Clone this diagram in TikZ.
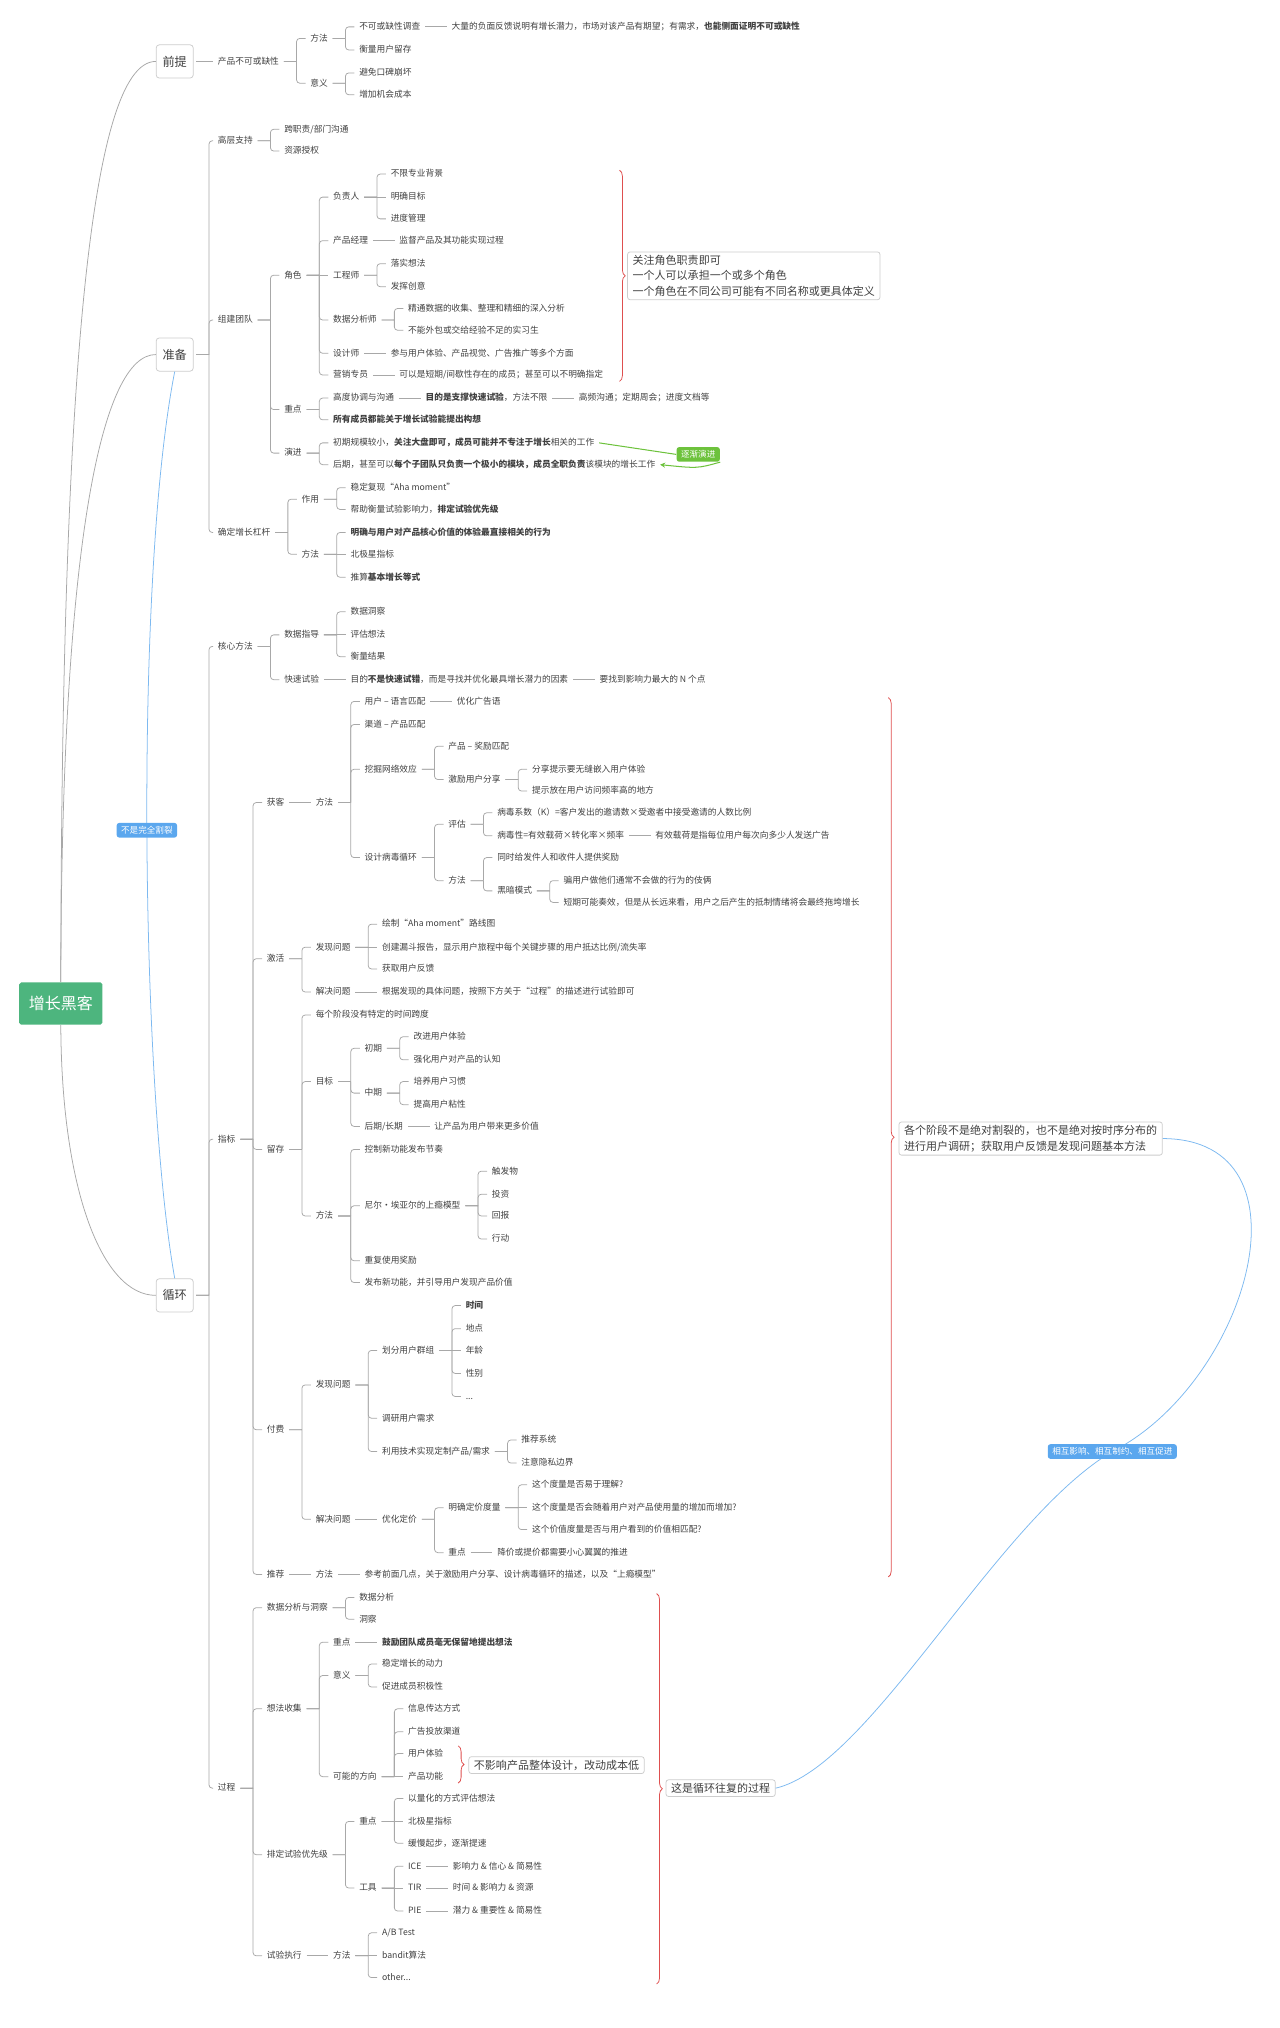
\documentclass[tikz,border=0pt]{standalone}
\usepackage{fontspec}
\setmainfont{Noto Sans CJK SC}
\usetikzlibrary{arrows.meta, positioning, decorations.pathreplacing}
\definecolor{ink}{HTML}{404040}
\definecolor{wire}{HTML}{A8A8A8}
\definecolor{frame}{HTML}{CDCDCD}
\definecolor{hubgreen}{HTML}{4DB57E}
\definecolor{bracered}{HTML}{DE4F4F}
\definecolor{tagblue}{HTML}{5BA7EE}
\definecolor{lineblue}{HTML}{7DB9F0}
\definecolor{leafgreen}{HTML}{6DC23C}

\begin{document}
\begin{tikzpicture}[%
    x = 1pt, y = -1pt,
    line width = 0.6pt,
    leaf/.style = {anchor = west, inner sep = 1.5pt, text = ink,
      text height = 5.6pt, text depth = 1.2pt,
      font = \fontsize{6.8}{8}\selectfont},
    kid/.style = {leaf, xshift = 21pt},
    br/.style = {draw = wire, to path = {%
        ([xshift = 2pt]\tikztostart.east) -- ([xshift = 12pt]\tikztostart.east)
        ++(0,0) [rounded corners = 2.5pt] |- ([xshift = -2pt]\tikztotarget.west)}},
    ln/.style = {draw = wire, shorten < = 2pt, shorten > = 2pt},
    topic/.style = {draw = frame, fill = white, rounded corners = 2.5pt,
      minimum width = 29pt, minimum height = 26pt, inner sep = 1pt,
      text = ink, font = \fontsize{9.5}{11}\selectfont},
    hubbox/.style = {fill = hubgreen, text = white, rounded corners = 1.5pt,
      minimum width = 65pt, minimum height = 33pt,
      font = \fontsize{12.5}{14}\selectfont},
    note/.style = {anchor = west, draw = frame, fill = white,
      rounded corners = 2pt, text = ink, align = left,
      inner xsep = 4pt, inner ysep = 2.5pt,
      font = \fontsize{8.6}{12.2}\selectfont},
    tag/.style = {fill = #1, text = white, rounded corners = 2pt,
      inner xsep = 3.5pt, inner ysep = 2.6pt,
      font = \fontsize{6.7}{7.5}\selectfont},
    brc/.style = {draw = bracered, decorate,
      decoration = {brace, amplitude = 4.5pt}},
    grn/.style = {draw = leafgreen, line width = 0.8pt},
  ]
  \useasboundingbox (0,0) rectangle (1000,1584.4);

  % 中心主题
  \node[hubbox] (hub) at (47.5,784) {增长黑客};
  \node[topic] (pre) at (136.5,48) {前提};
  \node[topic] (prep) at (136.5,277) {准备};
  \node[topic] (loop) at (136.5,1012) {循环};

  \draw[wire] (hub.north) .. controls (48,300) and (70,48) .. (pre.west);
  \draw[wire] (hub.north) .. controls (48,420) and (80,277) .. (prep.west);
  \draw[wire] (hub.south) .. controls (48,930) and (80,1012) .. (loop.west);
  \draw[lineblue] (prep.south) .. controls (105,450) and (110,850) .. (loop.north)
    node[pos = 0.5, tag = tagblue] (split) {不是完全割裂};

  % 前提
  \node[leaf] (must) at (168.5,48) {产品不可或缺性};
  \node[kid] (must1) at (must.east |- 0,30) {方法};
  \node[kid] (must2) at (must.east |- 0,65) {意义};
  \node[kid] (srv) at (must1.east |- 0,21) {不可或缺性调查};
  \node[leaf, right = 21pt of srv] (srv1) {大量的负面反馈说明有增长潜力，市场对该产品有期望；有需求，\textbf{也能侧面证明不可或缺性}};
  \node[kid] (keep) at (must1.east |- 0,39) {衡量用户留存};
  \node[kid] (mean1) at (must2.east |- 0,57) {避免口碑崩坏};
  \node[kid] (mean2) at (must2.east |- 0,74) {增加机会成本};

  \path (pre) edge[ln] (must)
    (must) edge[br] (must1) edge[br] (must2)
    (must1) edge[br] (srv) edge[br] (keep)
    (srv) edge[ln] (srv1)
    (must2) edge[br] (mean1) edge[br] (mean2);

  % 准备
  \node[leaf] (top) at (168.5,110) {高层支持};
  \node[kid] (top1) at (top.east |- 0,101) {跨职责/部门沟通};
  \node[kid] (top2) at (top.east |- 0,118) {资源授权};
  \node[leaf] (team) at (168.5,250) {组建团队};
  \node[kid] (role) at (team.east |- 0,215) {角色};
  \node[kid] (boss) at (role.east |- 0,154) {负责人};
  \node[kid] (boss1) at (boss.east |- 0,136) {不限专业背景};
  \node[kid] (boss2) at (boss.east |- 0,154) {明确目标};
  \node[kid] (boss3) at (boss.east |- 0,171) {进度管理};
  \node[kid] (pm) at (role.east |- 0,188) {产品经理};
  \node[leaf, right = 21pt of pm] (pm1) {监督产品及其功能实现过程};
  \node[kid] (eng) at (role.east |- 0,215) {工程师};
  \node[kid] (eng1) at (eng.east |- 0,206) {落实想法};
  \node[kid] (eng2) at (eng.east |- 0,224) {发挥创意};
  \node[kid] (ana) at (role.east |- 0,250) {数据分析师};
  \node[kid] (ana1) at (ana.east |- 0,241) {精通数据的收集、整理和精细的深入分析};
  \node[kid] (ana2) at (ana.east |- 0,258) {不能外包或交给经验不足的实习生};
  \node[kid] (des) at (role.east |- 0,276) {设计师};
  \node[leaf, right = 21pt of des] (des1) {参与用户体验、产品视觉、广告推广等多个方面};
  \node[kid] (mkt) at (role.east |- 0,293) {营销专员};
  \node[leaf, right = 21pt of mkt] (mkt1) {可以是短期/间歇性存在的成员；甚至可以不明确指定};
  \node[kid] (key) at (team.east |- 0,320) {重点};
  \node[kid] (co) at (key.east |- 0,311) {高度协调与沟通};
  \node[leaf, right = 21pt of co] (co1) {\textbf{目的是支撑快速试验}，方法不限};
  \node[leaf, right = 21pt of co1] (co2) {高频沟通；定期周会；进度文档等};
  \node[kid] (all) at (key.east |- 0,328) {\textbf{所有成员都能关于增长试验能提出构想}};
  \node[kid] (evo) at (team.east |- 0,354) {演进};
  \node[kid] (early) at (evo.east |- 0,346) {初期规模较小，\textbf{关注大盘即可，成员可能并不专注于增长}相关的工作};
  \node[kid] (late) at (evo.east |- 0,363) {后期，甚至可以\textbf{每个子团队只负责一个极小的模块，成员全职负责}该模块的增长工作};
  \node[tag = leafgreen] (grad) at (545.5,355) {逐渐演进};
  \node[leaf] (lev) at (168.5,416) {确定增长杠杆};
  \node[kid] (use) at (lev.east |- 0,390) {作用};
  \node[kid] (use1) at (use.east |- 0,381) {稳定复现“Aha moment”};
  \node[kid] (use2) at (use.east |- 0,398) {帮助衡量试验影响力，\textbf{排定试验优先级}};
  \node[kid] (how) at (lev.east |- 0,433) {方法};
  \node[kid] (how1) at (how.east |- 0,416) {\textbf{明确与用户对产品核心价值的体验最直接相关的行为}};
  \node[kid] (how2) at (how.east |- 0,433) {北极星指标};
  \node[kid] (how3) at (how.east |- 0,451) {推算\textbf{基本增长等式}};

  \path (prep) edge[br] (top) edge[br] (team) edge[br] (lev)
    (top) edge[br] (top1) edge[br] (top2)
    (team) edge[br] (role) edge[br] (key) edge[br] (evo)
    (role) edge[br] (boss) edge[br] (pm) edge[ln] (eng)
      edge[br] (ana) edge[br] (des) edge[br] (mkt)
    (boss) edge[br] (boss1) edge[ln] (boss2) edge[br] (boss3)
    (pm) edge[ln] (pm1)
    (eng) edge[br] (eng1) edge[br] (eng2)
    (ana) edge[br] (ana1) edge[br] (ana2)
    (des) edge[ln] (des1)
    (mkt) edge[ln] (mkt1)
    (key) edge[br] (co) edge[br] (all)
    (co) edge[ln] (co1)
    (co1) edge[ln] (co2)
    (evo) edge[br] (early) edge[br] (late)
    (lev) edge[br] (use) edge[br] (how)
    (use) edge[br] (use1) edge[br] (use2)
    (how) edge[br] (how1) edge[ln] (how2) edge[br] (how3);

  \draw[grn] ([xshift = 2pt]early.east) -- (grad.west);
  \draw[grn, -{Stealth[length = 4pt, width = 4pt]}] (grad.south east)
    .. controls (545,366) .. ([xshift = 2pt]late.east);

  \node[note] (roles) at (490,215.5) {关注角色职责即可\\一个人可以承担一个或多个角色\\一个角色在不同公司可能有不同名称或更具体定义};
  \draw[brc] (484,133) -- (484,298);

  % 循环
  \node[leaf] (core) at (168.5,505) {核心方法};
  \node[kid] (dat) at (core.east |- 0,496) {数据指导};
  \node[kid] (dat1) at (dat.east |- 0,478) {数据洞察};
  \node[kid] (dat2) at (dat.east |- 0,496) {评估想法};
  \node[kid] (dat3) at (dat.east |- 0,513) {衡量结果};
  \node[kid] (fast) at (core.east |- 0,531) {快速试验};
  \node[leaf, right = 21pt of fast] (fast1) {目的\textbf{不是快速试错}，而是寻找并优化最具增长潜力的因素};
  \node[leaf, right = 21pt of fast1] (fast2) {要找到影响力最大的 N 个点};

  \node[leaf] (kpi) at (168.5,890) {指标};
  \node[kid] (acq) at (kpi.east |- 0,627) {获客};
  \node[leaf, right = 21pt of acq] (acqm) {方法};
  \node[kid] (fit1) at (acqm.east |- 0,548) {用户 – 语言匹配};
  \node[leaf, right = 21pt of fit1] (fit1a) {优化广告语};
  \node[kid] (fit2) at (acqm.east |- 0,566) {渠道 – 产品匹配};
  \node[kid] (net) at (acqm.east |- 0,601) {挖掘网络效应};
  \node[kid] (net1) at (net.east |- 0,583) {产品 – 奖励匹配};
  \node[kid] (net2) at (net.east |- 0,609) {激励用户分享};
  \node[kid] (shr1) at (net2.east |- 0,601) {分享提示要无缝嵌入用户体验};
  \node[kid] (shr2) at (net2.east |- 0,618) {提示放在用户访问频率高的地方};
  \node[kid] (vir) at (acqm.east |- 0,670) {设计病毒循环};
  \node[kid] (eva) at (vir.east |- 0,644) {评估};
  \node[kid] (eva1) at (eva.east |- 0,635) {病毒系数（K）=客户发出的邀请数×受邀者中接受邀请的人数比例};
  \node[kid] (eva2) at (eva.east |- 0,653) {病毒性=有效载荷×转化率×频率};
  \node[leaf, right = 21pt of eva2] (eva3) {有效载荷是指每位用户每次向多少人发送广告};
  \node[kid] (vm) at (vir.east |- 0,688) {方法};
  \node[kid] (vm1) at (vm.east |- 0,670) {同时给发件人和收件人提供奖励};
  \node[kid] (dark) at (vm.east |- 0,696) {黑暗模式};
  \node[kid] (dark1) at (dark.east |- 0,688) {骗用户做他们通常不会做的行为的伎俩};
  \node[kid] (dark2) at (dark.east |- 0,705) {短期可能奏效，但是从长远来看，用户之后产生的抵制情绪将会最终拖垮增长};

  \node[kid] (act) at (kpi.east |- 0,749) {激活};
  \node[kid] (find) at (act.east |- 0,740) {发现问题};
  \node[kid] (find1) at (find.east |- 0,722) {绘制“Aha moment”路线图};
  \node[kid] (find2) at (find.east |- 0,740) {创建漏斗报告，显示用户旅程中每个关键步骤的用户抵达比例/流失率};
  \node[kid] (find3) at (find.east |- 0,757) {获取用户反馈};
  \node[kid] (fix) at (act.east |- 0,775) {解决问题};
  \node[leaf, right = 21pt of fix] (fix1) {根据发现的具体问题，按照下方关于“过程”的描述进行试验即可};

  \node[kid] (ret) at (kpi.east |- 0,898) {留存};
  \node[kid] (span) at (ret.east |- 0,793) {每个阶段没有特定的时间跨度};
  \node[kid] (goal) at (ret.east |- 0,845) {目标};
  \node[kid] (g1) at (goal.east |- 0,819) {初期};
  \node[kid] (g11) at (g1.east |- 0,810) {改进用户体验};
  \node[kid] (g12) at (g1.east |- 0,828) {强化用户对产品的认知};
  \node[kid] (g2) at (goal.east |- 0,854) {中期};
  \node[kid] (g21) at (g2.east |- 0,845) {培养用户习惯};
  \node[kid] (g22) at (g2.east |- 0,863) {提高用户粘性};
  \node[kid] (g3) at (goal.east |- 0,880) {后期/长期};
  \node[leaf, right = 21pt of g3] (g31) {让产品为用户带来更多价值};
  \node[kid] (rm) at (ret.east |- 0,950) {方法};
  \node[kid] (rm1) at (rm.east |- 0,898) {控制新功能发布节奏};
  \node[kid] (hook) at (rm.east |- 0,942) {尼尔·埃亚尔的上瘾模型};
  \node[kid] (hook1) at (hook.east |- 0,915) {触发物};
  \node[kid] (hook2) at (hook.east |- 0,933) {投资};
  \node[kid] (hook3) at (hook.east |- 0,950) {回报};
  \node[kid] (hook4) at (hook.east |- 0,968) {行动};
  \node[kid] (rm3) at (rm.east |- 0,985) {重复使用奖励};
  \node[kid] (rm4) at (rm.east |- 0,1002) {发布新功能，并引导用户发现产品价值};

  \node[kid] (rev) at (kpi.east |- 0,1117) {付费};
  \node[kid] (pf) at (rev.east |- 0,1082) {发现问题};
  \node[kid] (grp) at (pf.east |- 0,1055) {划分用户群组};
  \node[kid] (grp1) at (grp.east |- 0,1020) {\textbf{时间}};
  \node[kid] (grp2) at (grp.east |- 0,1038) {地点};
  \node[kid] (grp3) at (grp.east |- 0,1055) {年龄};
  \node[kid] (grp4) at (grp.east |- 0,1073) {性别};
  \node[kid] (grp5) at (grp.east |- 0,1091) {...};
  \node[kid] (need) at (pf.east |- 0,1108) {调研用户需求};
  \node[kid] (tech) at (pf.east |- 0,1134) {利用技术实现定制产品/需求};
  \node[kid] (tech1) at (tech.east |- 0,1125) {推荐系统};
  \node[kid] (tech2) at (tech.east |- 0,1143) {注意隐私边界};
  \node[kid] (ps) at (rev.east |- 0,1187) {解决问题};
  \node[leaf, right = 21pt of ps] (price) {优化定价};
  \node[kid] (unit) at (price.east |- 0,1178) {明确定价度量};
  \node[kid] (unit1) at (unit.east |- 0,1160) {这个度量是否易于理解?};
  \node[kid] (unit2) at (unit.east |- 0,1178) {这个度量是否会随着用户对产品使用量的增加而增加?};
  \node[kid] (unit3) at (unit.east |- 0,1195) {这个价值度量是否与用户看到的价值相匹配?};
  \node[kid] (pk) at (price.east |- 0,1213) {重点};
  \node[leaf, right = 21pt of pk] (pk1) {降价或提价都需要小心翼翼的推进};

  \node[kid] (ref) at (kpi.east |- 0,1230) {推荐};
  \node[leaf, right = 21pt of ref] (refm) {方法};
  \node[leaf, right = 21pt of refm] (refm1) {参考前面几点，关于激励用户分享、设计病毒循环的描述，以及“上瘾模型”};

  \node[leaf] (proc) at (168.5,1397) {过程};
  \node[kid] (ins) at (proc.east |- 0,1256) {数据分析与洞察};
  \node[kid] (ins1) at (ins.east |- 0,1248) {数据分析};
  \node[kid] (ins2) at (ins.east |- 0,1265) {洞察};
  \node[kid] (idea) at (proc.east |- 0,1335) {想法收集};
  \node[kid] (ik) at (idea.east |- 0,1283) {重点};
  \node[leaf, right = 21pt of ik] (ik1) {\textbf{鼓励团队成员毫无保留地提出想法}};
  \node[kid] (im) at (idea.east |- 0,1309) {意义};
  \node[kid] (im1) at (im.east |- 0,1300) {稳定增长的动力};
  \node[kid] (im2) at (im.east |- 0,1318) {促进成员积极性};
  \node[kid] (dir) at (idea.east |- 0,1388) {可能的方向};
  \node[kid] (dir1) at (dir.east |- 0,1335) {信息传达方式};
  \node[kid] (dir2) at (dir.east |- 0,1353) {广告投放渠道};
  \node[kid] (dir3) at (dir.east |- 0,1370) {用户体验};
  \node[kid] (dir4) at (dir.east |- 0,1388) {产品功能};
  \node[kid] (prio) at (proc.east |- 0,1449) {排定试验优先级};
  \node[kid] (pk2) at (prio.east |- 0,1423) {重点};
  \node[kid] (pk21) at (pk2.east |- 0,1405) {以量化的方式评估想法};
  \node[kid] (pk22) at (pk2.east |- 0,1423) {北极星指标};
  \node[kid] (pk23) at (pk2.east |- 0,1440) {缓慢起步，逐渐提速};
  \node[kid] (tool) at (prio.east |- 0,1475) {工具};
  \node[kid] (ice) at (tool.east |- 0,1458) {ICE};
  \node[leaf, right = 21pt of ice] (ice1) {影响力 \& 信心 \& 简易性};
  \node[kid] (tir) at (tool.east |- 0,1475) {TIR};
  \node[leaf, right = 21pt of tir] (tir1) {时间 \& 影响力 \& 资源};
  \node[kid] (pie) at (tool.east |- 0,1493) {PIE};
  \node[leaf, right = 21pt of pie] (pie1) {潜力 \& 重要性 \& 简易性};
  \node[kid] (run) at (proc.east |- 0,1528) {试验执行};
  \node[leaf, right = 21pt of run] (runm) {方法};
  \node[kid] (ab) at (runm.east |- 0,1510) {A/B Test};
  \node[kid] (bandit) at (runm.east |- 0,1528) {bandit算法};
  \node[kid] (other) at (runm.east |- 0,1545) {other...};

  \path (loop) edge[br] (core) edge[br] (kpi) edge[br] (proc)
    (core) edge[br] (dat) edge[br] (fast)
    (dat) edge[br] (dat1) edge[ln] (dat2) edge[br] (dat3)
    (fast) edge[ln] (fast1)
    (fast1) edge[ln] (fast2)
    (kpi) edge[br] (acq) edge[br] (act) edge[br] (ret) edge[br] (rev) edge[br] (ref)
    (acq) edge[ln] (acqm)
    (acqm) edge[br] (fit1) edge[br] (fit2) edge[br] (net) edge[br] (vir)
    (fit1) edge[ln] (fit1a)
    (net) edge[br] (net1) edge[br] (net2)
    (net2) edge[br] (shr1) edge[br] (shr2)
    (vir) edge[br] (eva) edge[br] (vm)
    (eva) edge[br] (eva1) edge[br] (eva2)
    (eva2) edge[ln] (eva3)
    (vm) edge[br] (vm1) edge[br] (dark)
    (dark) edge[br] (dark1) edge[br] (dark2)
    (act) edge[br] (find) edge[br] (fix)
    (find) edge[br] (find1) edge[ln] (find2) edge[br] (find3)
    (fix) edge[ln] (fix1)
    (ret) edge[br] (span) edge[br] (goal) edge[br] (rm)
    (goal) edge[br] (g1) edge[br] (g2) edge[br] (g3)
    (g1) edge[br] (g11) edge[br] (g12)
    (g2) edge[br] (g21) edge[br] (g22)
    (g3) edge[ln] (g31)
    (rm) edge[br] (rm1) edge[br] (hook) edge[br] (rm3) edge[br] (rm4)
    (hook) edge[br] (hook1) edge[br] (hook2) edge[br] (hook3) edge[br] (hook4)
    (rev) edge[br] (pf) edge[br] (ps)
    (pf) edge[br] (grp) edge[br] (need) edge[br] (tech)
    (grp) edge[br] (grp1) edge[br] (grp2) edge[ln] (grp3) edge[br] (grp4) edge[br] (grp5)
    (tech) edge[br] (tech1) edge[br] (tech2)
    (ps) edge[ln] (price)
    (price) edge[br] (unit) edge[br] (pk)
    (unit) edge[br] (unit1) edge[ln] (unit2) edge[br] (unit3)
    (pk) edge[ln] (pk1)
    (ref) edge[ln] (refm)
    (refm) edge[ln] (refm1)
    (proc) edge[br] (ins) edge[br] (idea) edge[br] (prio) edge[br] (run)
    (ins) edge[br] (ins1) edge[br] (ins2)
    (idea) edge[br] (ik) edge[br] (im) edge[br] (dir)
    (ik) edge[ln] (ik1)
    (im) edge[br] (im1) edge[br] (im2)
    (dir) edge[br] (dir1) edge[br] (dir2) edge[br] (dir3) edge[ln] (dir4)
    (prio) edge[br] (pk2) edge[br] (tool)
    (pk2) edge[br] (pk21) edge[ln] (pk22) edge[br] (pk23)
    (tool) edge[br] (ice) edge[ln] (tir) edge[br] (pie)
    (ice) edge[ln] (ice1)
    (tir) edge[ln] (tir1)
    (pie) edge[ln] (pie1)
    (run) edge[ln] (runm)
    (runm) edge[br] (ab) edge[ln] (bandit) edge[br] (other);

  % 说明框
  \node[note] (stages) at (702,889.5) {各个阶段不是绝对割裂的，也不是绝对按时序分布的\\进行用户调研；获取用户反馈是发现问题基本方法};
  \draw[brc] (694,545) -- (694,1232);
  \node[note] (cheap) at (366,1379) {不影响产品整体设计，改动成本低};
  \draw[brc] (358,1364) -- (358,1393);
  \node[note] (cycle) at (520,1397) {这是循环往复的过程};
  \draw[brc] (513,1245) -- (513,1550);

  \coordinate (bend) at (869,1134);
  \draw[lineblue] (stages.east) .. controls (1030,890) and (975,1080) .. (bend)
    .. controls (778,1188) and (680,1380) .. (cycle.east);
  \node[tag = tagblue] (mutual) at (bend) {相互影响、相互制约、相互促进};

\end{tikzpicture}
\end{document}
